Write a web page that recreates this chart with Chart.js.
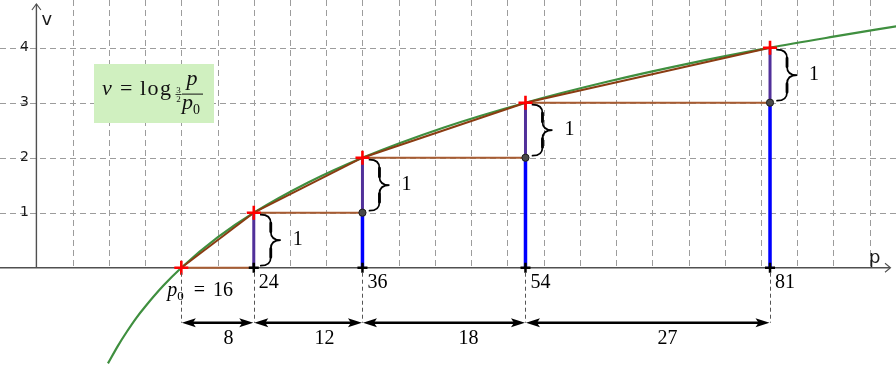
<!DOCTYPE html>
<html>
<head>
<meta charset="utf-8">
<script src="https://cdn.jsdelivr.net/npm/chart.js@4.4.1/dist/chart.umd.min.js"></script>
<style>
  html, body { margin: 0; padding: 0; background: #fff; overflow: hidden; }
  canvas { display: block; }
</style>
</head>
<body>
<canvas id="c" width="896" height="366"></canvas>
<script>
// Sampled points of v = log_{3/2}(p / p0) with p0 = 16
const curveP = [7.9, 9, 10, 11, 12, 14, 16, 20, 24, 30, 36, 45, 54, 63, 72, 81, 88, 95];
const curveV = [-1.74, -1.42, -1.16, -0.92, -0.71, -0.33, 0, 0.55, 1, 1.55, 2, 2.55, 3, 3.38, 3.71, 4, 4.2, 4.39];

// Pressures at which v reaches each whole step
const stepP = [16, 24, 36, 54, 81];
const stepV = [0, 1, 2, 3, 4];

// Labelled ticks on the v axis
const vTicks = [1, 2, 3, 4];

// Axis window
const P_MIN = -4.02, P_MAX = 94.91;
const V_MIN = -1.787, V_MAX = 4.867;

const GREEN = '#3f8f3f';
const BROWN_HYP = '#8a3c12';
const BROWN_BASE = '#a85c32';
const TRI_FILL = 'rgba(153, 51, 0, 0.10)';
const BLUE = '#0000ff';
const PURPLE = '#51309a';
const SERIF = '"Liberation Serif", "Times New Roman", serif';
const SANS = '"DejaVu Sans", sans-serif';

const pts = (xs, ys) => xs.map((p, i) => ({ x: p, y: ys[i] }));

// Blue: from the axis up to the previous level; purple: the one-step rise
const blueData = [];
const purpleData = [];
for (let i = 1; i < stepP.length; i++) {
  if (stepV[i - 1] > 0) {
    blueData.push({ x: stepP[i], y: 0 }, { x: stepP[i], y: stepV[i - 1] }, { x: stepP[i], y: null });
  }
  purpleData.push({ x: stepP[i], y: stepV[i - 1] }, { x: stepP[i], y: stepV[i] }, { x: stepP[i], y: null });
}

// Shaded step triangles: base edge then chord
const triangleSets = [];
for (let i = 0; i < stepP.length - 1; i++) {
  triangleSets.push({
    data: [
      { x: stepP[i + 1], y: stepV[i] },
      { x: stepP[i], y: stepV[i] },
      { x: stepP[i + 1], y: stepV[i + 1] }
    ],
    showLine: true,
    fill: 'shape',
    backgroundColor: TRI_FILL,
    borderWidth: 2,
    borderColor: BROWN_HYP,
    segment: { borderColor: ctx => (ctx.p0DataIndex === 0 ? BROWN_BASE : BROWN_HYP) },
    pointRadius: 0,
    tension: 0,
    order: 8
  });
}

function drawBrace(ctx, x, yTop, yBot, w) {
  const mid = (yTop + yBot) / 2;
  const xm = x + w / 2;
  const r = Math.min(w / 2, (yBot - yTop) / 6);
  ctx.lineCap = 'round';
  ctx.beginPath();
  ctx.moveTo(x, yTop);
  ctx.quadraticCurveTo(xm, yTop, xm, yTop + r);
  ctx.lineTo(xm, mid - r);
  ctx.quadraticCurveTo(xm, mid, x + w, mid);
  ctx.quadraticCurveTo(xm, mid, xm, mid + r);
  ctx.lineTo(xm, yBot - r);
  ctx.quadraticCurveTo(xm, yBot, x, yBot);
  ctx.lineWidth = 1.7;
  ctx.stroke();
  // heavier straight stems, as in a typeset brace
  ctx.beginPath();
  ctx.moveTo(xm, yTop + r); ctx.lineTo(xm, mid - r);
  ctx.moveTo(xm, mid + r); ctx.lineTo(xm, yBot - r);
  ctx.lineWidth = 2.8;
  ctx.stroke();
  ctx.lineCap = 'butt';
}

function arrowHead(ctx, xt, y, dir) {
  // dir = -1 points left, +1 points right
  ctx.beginPath();
  ctx.moveTo(xt, y);
  ctx.lineTo(xt - dir * 14, y - 4.5);
  ctx.lineTo(xt - dir * 11, y);
  ctx.lineTo(xt - dir * 14, y + 4.5);
  ctx.closePath();
  ctx.fill();
}

// Draws text pieces one after another starting at x; returns the end x
function textRun(ctx, x, pieces) {
  for (const [txt, font, dy, gap] of pieces) {
    ctx.font = font;
    ctx.fillText(txt, x, dy);
    x += ctx.measureText(txt).width + (gap || 0);
  }
  return x;
}

const backdrop = {
  id: 'backdrop',
  beforeDraw(chart) {
    const { ctx, width, height } = chart;
    ctx.save();
    ctx.fillStyle = '#fff';
    ctx.fillRect(0, 0, width, height);
    ctx.restore();
  },
  beforeDatasetsDraw(chart) {
    const { ctx, width } = chart;
    const X = chart.scales.x, Y = chart.scales.y;
    const y0 = Y.getPixelForValue(0);
    const x0 = X.getPixelForValue(0);
    ctx.save();

    // dashed grid: verticals every 4 above the p axis, horizontals at each v tick
    ctx.strokeStyle = '#9c9c9c';
    ctx.lineWidth = 1;
    ctx.setLineDash([6, 4]);
    for (let p = 4; p <= X.max; p += 4) {
      const xx = Math.round(X.getPixelForValue(p)) + 0.5;
      ctx.beginPath(); ctx.moveTo(xx, 0); ctx.lineTo(xx, y0); ctx.stroke();
    }
    for (const v of vTicks) {
      const yy = Math.round(Y.getPixelForValue(v)) + 0.5;
      ctx.beginPath(); ctx.moveTo(0, yy); ctx.lineTo(width, yy); ctx.stroke();
    }
    ctx.setLineDash([]);

    // axes with open arrow tips
    ctx.strokeStyle = '#505050';
    ctx.lineWidth = 1.4;
    ctx.beginPath();
    ctx.moveTo(0, y0); ctx.lineTo(890, y0);
    ctx.moveTo(x0, y0); ctx.lineTo(x0, 4);
    ctx.stroke();
    ctx.lineWidth = 1.1;
    ctx.beginPath();
    ctx.moveTo(885, y0 - 4.5); ctx.lineTo(890.5, y0); ctx.lineTo(885, y0 + 4.5);
    ctx.moveTo(x0 - 4.5, 10); ctx.lineTo(x0, 4); ctx.lineTo(x0 + 4.5, 10);
    ctx.stroke();

    // v tick labels and axis names
    ctx.fillStyle = '#1a1a1a';
    ctx.font = '14px ' + SANS;
    ctx.textAlign = 'center';
    ctx.textBaseline = 'middle';
    for (const v of vTicks) ctx.fillText(String(v), x0 - 12, Y.getPixelForValue(v));
    ctx.textBaseline = 'alphabetic';
    ctx.textAlign = 'left';
    ctx.font = '18px ' + SANS;
    ctx.fillText('v', x0 + 5, 25);
    ctx.fillText('p', 869, y0 - 5);

    // formula box
    ctx.fillStyle = '#d0f0c0';
    ctx.fillRect(94, 64, 120, 59);
    ctx.fillStyle = '#111';
    ctx.textAlign = 'left';
    ctx.font = 'italic 22px ' + SERIF;
    ctx.fillText('v', 102, 95);
    ctx.font = '22px ' + SERIF;
    ctx.fillText('=', 120, 95);
    ctx.letterSpacing = '1.5px';
    ctx.fillText('log', 140, 95);
    ctx.letterSpacing = '0px';
    ctx.textAlign = 'center';
    ctx.font = '9px ' + SERIF;
    ctx.fillText('3', 178.5, 92.5);
    ctx.fillText('2', 178.5, 102);
    ctx.fillRect(175.5, 94.2, 6, 0.8);
    ctx.font = 'italic 22px ' + SERIF;
    ctx.fillText('p', 192, 85);
    ctx.fillRect(182, 93.6, 21, 1);
    ctx.textAlign = 'left';
    ctx.fillText('p', 182, 109);
    ctx.font = '14px ' + SERIF;
    ctx.fillText('0', 193, 114);

    ctx.restore();
  },
  afterDatasetsDraw(chart) {
    const { ctx } = chart;
    const X = chart.scales.x, Y = chart.scales.y;
    const y0 = Y.getPixelForValue(0);
    const yDim = Y.getPixelForValue(-1);
    ctx.save();

    // braces marking each unit rise in v
    ctx.strokeStyle = '#000';
    ctx.fillStyle = '#000';
    for (let i = 1; i < stepP.length; i++) {
      const xl = X.getPixelForValue(stepP[i]);
      const yt = Y.getPixelForValue(stepV[i]) + 2;
      const yb = Y.getPixelForValue(stepV[i - 1]) - 2;
      drawBrace(ctx, xl + 7, yt, yb, 20);
      ctx.font = '20px ' + SERIF;
      ctx.textAlign = 'left';
      ctx.fillText(String(stepV[i] - stepV[i - 1]), xl + 39, (yt + yb) / 2 + 5);
    }

    // pressure labels below the axis
    ctx.fillStyle = '#000';
    ctx.font = '20px ' + SERIF;
    ctx.textAlign = 'left';
    for (let i = 1; i < stepP.length; i++) {
      ctx.fillText(String(stepP[i]), X.getPixelForValue(stepP[i]) + 5, y0 + 20);
    }
    const x16 = X.getPixelForValue(stepP[0]);
    textRun(ctx, x16 - 14, [
      ['p', 'italic 20px ' + SERIF, y0 + 28, 0],
      ['0', '13px ' + SERIF, y0 + 32, 10],
      ['=', '20px ' + SERIF, y0 + 28, 8],
      [String(stepP[0]), '20px ' + SERIF, y0 + 28, 0]
    ]);

    // dashed drop lines down to the interval arrows
    ctx.strokeStyle = '#555';
    ctx.lineWidth = 1;
    ctx.setLineDash([4, 3]);
    for (const p of stepP) {
      const xx = Math.round(X.getPixelForValue(p)) + 0.5;
      ctx.beginPath(); ctx.moveTo(xx, y0 + 5); ctx.lineTo(xx, yDim); ctx.stroke();
    }
    ctx.setLineDash([]);

    // interval arrows with their widths
    ctx.strokeStyle = '#000';
    ctx.fillStyle = '#000';
    ctx.lineWidth = 2.4;
    ctx.font = '20px ' + SERIF;
    ctx.textAlign = 'center';
    for (let i = 0; i < stepP.length - 1; i++) {
      const x1 = X.getPixelForValue(stepP[i]);
      const x2 = X.getPixelForValue(stepP[i + 1]);
      ctx.beginPath(); ctx.moveTo(x1 + 6, yDim); ctx.lineTo(x2 - 6, yDim); ctx.stroke();
      arrowHead(ctx, x1 + 0.5, yDim, -1);
      arrowHead(ctx, x2 - 0.5, yDim, 1);
      const off = Math.min(0.65 * (x2 - x1), 142);
      ctx.fillText(String(stepP[i + 1] - stepP[i]), x1 + off, yDim + 21);
    }

    ctx.restore();
  }
};

new Chart(document.getElementById('c'), {
  type: 'scatter',
  data: {
    datasets: [
      {
        data: pts(curveP, curveV),
        showLine: true,
        borderColor: GREEN,
        borderWidth: 2.2,
        pointRadius: 0,
        cubicInterpolationMode: 'monotone',
        fill: false,
        order: 9
      },
      ...triangleSets,
      {
        data: blueData,
        showLine: true,
        spanGaps: false,
        borderColor: BLUE,
        borderWidth: 3.5,
        pointRadius: 0,
        order: 6
      },
      {
        data: purpleData,
        showLine: true,
        spanGaps: false,
        borderColor: PURPLE,
        borderWidth: 3,
        pointRadius: 0,
        order: 5
      },
      {
        // previous level on each vertical
        data: stepP.slice(2).map((p, i) => ({ x: p, y: stepV[i + 1] })),
        pointStyle: 'circle',
        pointRadius: 3.6,
        backgroundColor: '#4a4a4a',
        borderColor: '#1e1e1e',
        borderWidth: 1,
        order: 4
      },
      {
        // axis marks
        data: stepP.slice(1).map(p => ({ x: p, y: 0 })),
        pointStyle: 'cross',
        pointRadius: 5,
        borderColor: '#000',
        borderWidth: 2.5,
        order: 3
      },
      {
        // curve points
        data: pts(stepP, stepV),
        pointStyle: 'cross',
        pointRadius: 7,
        borderColor: '#ff0000',
        borderWidth: 2.6,
        order: 2
      }
    ]
  },
  options: {
    responsive: false,
    devicePixelRatio: 1,
    animation: false,
    events: [],
    layout: { padding: 0, autoPadding: false },
    scales: {
      x: { type: 'linear', min: P_MIN, max: P_MAX, display: false },
      y: { type: 'linear', min: V_MIN, max: V_MAX, display: false }
    },
    plugins: {
      legend: { display: false },
      tooltip: { enabled: false }
    }
  },
  plugins: [backdrop]
});
</script>
</body>
</html>
